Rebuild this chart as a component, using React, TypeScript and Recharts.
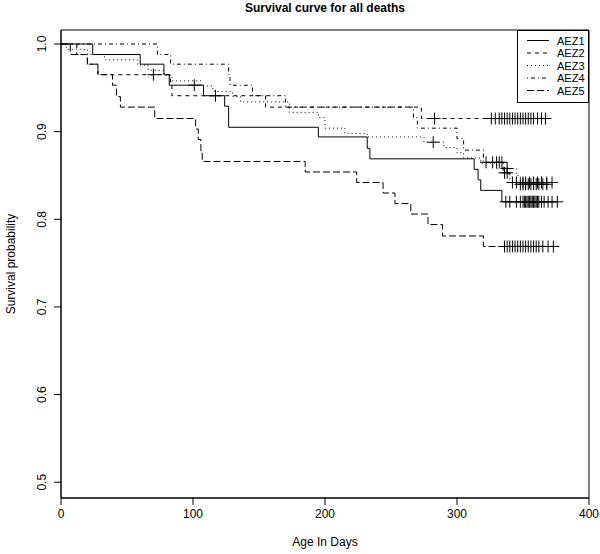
import React from 'react';
import { ComposedChart, Line, Scatter, XAxis, YAxis, ReferenceArea } from 'recharts';

// ---- data (days, survival probability after event) ----
const aez1Time = [0, 24, 60, 78, 82, 108, 124, 127, 195, 232, 234, 313, 316, 318, 320, 334];
const aez1Surv = [1.0, 0.988, 0.977, 0.965, 0.953, 0.941, 0.929, 0.905, 0.894, 0.881, 0.869, 0.857, 0.845, 0.833, 0.833, 0.82];
const aez1Censor = [101, 117, 337, 340, 345, 348, 350, 351, 352, 353, 354, 355, 356, 357, 358, 359, 360, 361, 362, 364, 366, 369, 372, 376];

const aez2Time = [0, 12, 20, 28, 83, 84, 155, 273];
const aez2Surv = [1.0, 0.988, 0.977, 0.965, 0.953, 0.941, 0.928, 0.915];
const aez2Censor = [70, 283, 326, 329, 332, 334, 336, 338, 340, 342, 344, 346, 348, 350, 352, 354, 356, 358, 361, 364, 367];

const aez3Time = [0, 4, 20, 33, 58, 66, 78, 84, 106, 115, 130, 136, 173, 195, 200, 215, 232, 260, 275, 290, 300, 305, 318, 330, 345, 348];
const aez3Surv = [1.0, 0.994, 0.988, 0.982, 0.976, 0.970, 0.964, 0.958, 0.952, 0.946, 0.940, 0.934, 0.922, 0.916, 0.904, 0.898, 0.894, 0.894, 0.888, 0.882, 0.876, 0.870, 0.864, 0.858, 0.850, 0.840];
const aez3Censor = [282, 338, 348, 350, 352, 354, 356, 358, 360, 362, 365, 368];

const aez4Time = [0, 73, 83, 127, 128, 145, 170, 267, 270, 300, 305, 320, 335, 340];
const aez4Surv = [1.0, 0.988, 0.977, 0.965, 0.953, 0.941, 0.928, 0.916, 0.904, 0.892, 0.879, 0.865, 0.853, 0.842];
const aez4Censor = [322, 327, 330, 332, 334, 336, 338, 342, 345, 350, 352, 355, 358, 361, 364, 368, 372];

const aez5Time = [0, 7, 20, 28, 39, 42, 45, 71, 102, 104, 106, 107, 185, 224, 244, 253, 265, 278, 289, 320];
const aez5Surv = [1.0, 0.988, 0.977, 0.965, 0.953, 0.940, 0.928, 0.915, 0.903, 0.891, 0.878, 0.866, 0.854, 0.842, 0.830, 0.818, 0.806, 0.794, 0.781, 0.769];
const aez5Censor = [336, 338, 340, 342, 344, 346, 348, 350, 352, 354, 356, 358, 360, 362, 365, 369, 373];

const seriesNames = ['AEZ1', 'AEZ2', 'AEZ3', 'AEZ4', 'AEZ5'];
const xTicks = [0, 100, 200, 300, 400];
const yTicks = [0.5, 0.6, 0.7, 0.8, 0.9, 1.0];

const dashes = ['0', '4 4', '1 3', '1 3 4 3', '7 3'];
const FONT = '"Liberation Sans", Arial, Helvetica, sans-serif';
const Y_MIN = 0.482;
const Y_MAX = 1.016;

function stepValue(times: number[], surv: number[], t: number) {
  let v = surv[0];
  for (let i = 0; i < times.length; i++) if (times[i] <= t) v = surv[i];
  return v;
}

function buildLine(times: number[], surv: number[], censor: number[]) {
  const pts = times.map((t, i) => ({ x: t, y: surv[i] }));
  const lastC = Math.max(...censor);
  if (lastC > times[times.length - 1]) pts.push({ x: lastC, y: surv[surv.length - 1] });
  return pts;
}

function buildCensor(times: number[], surv: number[], censor: number[]) {
  return censor.map((t) => ({ x: t, y: stepValue(times, surv, t) }));
}

const groups = [
  [aez1Time, aez1Surv, aez1Censor],
  [aez2Time, aez2Surv, aez2Censor],
  [aez3Time, aez3Surv, aez3Censor],
  [aez4Time, aez4Surv, aez4Censor],
  [aez5Time, aez5Surv, aez5Censor],
] as number[][][];

const lines = groups.map(([t, s, c]) => buildLine(t, s, c));
const censors = groups.map(([t, s, c]) => buildCensor(t, s, c));

const Cross = (props: any) => {
  const { cx, cy } = props;
  if (cx == null || cy == null) return null;
  return <path d={`M${cx - 6},${cy}H${cx + 6}M${cx},${cy - 6}V${cy + 6}`} stroke="#000" strokeWidth={1} fill="none" />;
};

const YTick = (props: any) => {
  const { x, y, payload } = props;
  return (
    <text x={x} y={y} transform={`rotate(-90 ${x} ${y})`} textAnchor="middle" fontSize={12} fontFamily={FONT} fill="#000">
      {Number(payload.value).toFixed(1)}
    </text>
  );
};

export default function App() {
  return (
    <div style={{ position: 'absolute', left: 0, top: 0, width: 600, height: 554, background: '#fff' }}>
      <ComposedChart width={600} height={554} margin={{ top: 30, right: 11, bottom: 0, left: 0 }}>
        <XAxis
          type="number"
          dataKey="x"
          domain={[0, 400]}
          ticks={xTicks}
          allowDataOverflow
          height={56}
          tickSize={7}
          tickMargin={4}
          stroke="#000"
          tick={{ fill: '#000', fontSize: 12, fontFamily: FONT }}
        />
        <YAxis
          type="number"
          dataKey="y"
          domain={[Y_MIN, Y_MAX]}
          ticks={yTicks}
          allowDataOverflow
          width={61}
          tickSize={7}
          tickMargin={8}
          stroke="#000"
          tick={<YTick />}
        />
        <ReferenceArea x1={0} x2={400} y1={Y_MIN} y2={Y_MAX} fill="none" stroke="#000" strokeWidth={1} ifOverflow="visible" />
        {lines.map((d, i) => (
          <Line
            key={seriesNames[i]}
            data={d}
            dataKey="y"
            type="stepAfter"
            stroke="#000"
            strokeWidth={1}
            strokeDasharray={dashes[i]}
            dot={false}
            activeDot={false}
            isAnimationActive={false}
          />
        ))}
        {censors.map((d, i) => (
          <Scatter key={'c' + seriesNames[i]} data={d} dataKey="y" shape={<Cross />} isAnimationActive={false} />
        ))}
      </ComposedChart>
      <svg width={600} height={554} style={{ position: 'absolute', left: 0, top: 0, pointerEvents: 'none' }}>
        <text x={325} y={12} textAnchor="middle" fontWeight="bold" fontSize={12} fontFamily={FONT}>Survival curve for all deaths</text>
        <text x={325} y={546} textAnchor="middle" fontSize={12} fontFamily={FONT}>Age In Days</text>
        <text x={15} y={264} transform="rotate(-90 15 264)" textAnchor="middle" fontSize={12} fontFamily={FONT}>Survival probability</text>
        <rect x={517.5} y={30.5} width={71} height={72} fill="#fff" stroke="#000" />
        {seriesNames.map((n, i) => (
          <g key={n}>
            <line x1={527} x2={549} y1={40.5 + i * 12.5} y2={40.5 + i * 12.5} stroke="#000" strokeDasharray={dashes[i]} />
            <text x={557} y={44.5 + i * 12.5} fontSize={11} fontFamily={FONT}>{n}</text>
          </g>
        ))}
      </svg>
    </div>
  );
}
